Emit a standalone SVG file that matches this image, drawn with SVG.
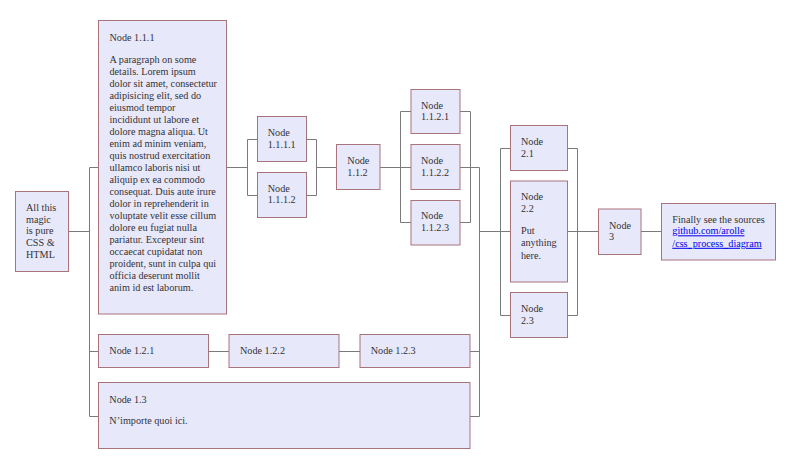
<svg xmlns="http://www.w3.org/2000/svg" width="800" height="463" viewBox="0 0 800 463">
<style>
.box{fill:#e8e8fb;stroke:#a9737c;stroke-width:1}
.t{font-family:"Liberation Serif","Times New Roman",serif;font-size:10.2px;fill:#333}
.lnk{fill:#0000ee;text-decoration:underline}
.c{fill:none;stroke:#7a7a7a;stroke-width:1}
</style>
<rect width="800" height="463" fill="#fff"/>
<g id="connectors" class="c">
<path d="M68.5,231.5H89.5M89.5,167.5V416.5M89.5,167.5H98.5M89.5,351.5H98.5M89.5,416.5H98.5"/>
<path d="M226.5,167.5H247.5M247.5,139.5V195.5M247.5,139.5H257.5M247.5,195.5H257.5M306.5,139.5H316.5M306.5,195.5H316.5M316.5,139.5V195.5M316.5,167.5H336.5"/>
<path d="M380,167.5H400.5M400.5,111.5V222.5M400.5,111.5H411M400.5,167.5H411M400.5,222.5H411M460,111.5H470.5M460,222.5H470.5M470.5,111.5V222.5M460,167.5H479.5"/>
<path d="M479.5,167.5V416.5M470,351.5H479.5M470,416.5H479.5M208.5,351.5H229M339,351.5H360"/>
<path d="M479.5,231.5H500.5M500.5,148.5V315.5M500.5,148.5H510.5M500.5,231.5H510.5M500.5,315.5H510.5M567.5,148.5H577.5M567.5,315.5H577.5M577.5,148.5V315.5M567.5,231.5H598.5M641,231.5H661.5"/>
</g>
<g id="n0"><rect class="box" x="15.5" y="191.5" width="53" height="80"/>
<text class="t" x="26" y="210.8">All this</text><text class="t" x="26" y="222.5">magic</text><text class="t" x="26" y="234.2">is pure</text><text class="t" x="26" y="245.9">CSS &amp;</text><text class="t" x="26" y="257.6">HTML</text></g>
<g id="n111"><rect class="box" x="98.5" y="20.5" width="128" height="293.5"/>
<text class="t" x="109.5" y="40.8">Node 1.1.1</text>
<text class="t" x="109.5" y="62.5">A paragraph on some</text>
<text class="t" x="109.5" y="74.5">details. Lorem ipsum</text>
<text class="t" x="109.5" y="86.5">dolor sit amet, consectetur</text>
<text class="t" x="109.5" y="98.5">adipisicing elit, sed do</text>
<text class="t" x="109.5" y="110.5">eiusmod tempor</text>
<text class="t" x="109.5" y="122.5">incididunt ut labore et</text>
<text class="t" x="109.5" y="134.5">dolore magna aliqua. Ut</text>
<text class="t" x="109.5" y="146.5">enim ad minim veniam,</text>
<text class="t" x="109.5" y="158.5">quis nostrud exercitation</text>
<text class="t" x="109.5" y="170.5">ullamco laboris nisi ut</text>
<text class="t" x="109.5" y="182.5">aliquip ex ea commodo</text>
<text class="t" x="109.5" y="194.5">consequat. Duis aute irure</text>
<text class="t" x="109.5" y="206.5">dolor in reprehenderit in</text>
<text class="t" x="109.5" y="218.5">voluptate velit esse cillum</text>
<text class="t" x="109.5" y="230.5">dolore eu fugiat nulla</text>
<text class="t" x="109.5" y="242.5">pariatur. Excepteur sint</text>
<text class="t" x="109.5" y="254.5">occaecat cupidatat non</text>
<text class="t" x="109.5" y="266.5">proident, sunt in culpa qui</text>
<text class="t" x="109.5" y="278.5">officia deserunt mollit</text>
<text class="t" x="109.5" y="290.5">anim id est laborum.</text>
</g>
<g id="n1111"><rect class="box" x="257.5" y="116.5" width="49" height="45"/>
<text class="t" x="267.7" y="136.2">Node</text><text class="t" x="267.7" y="147.9">1.1.1.1</text></g>
<g id="n1112"><rect class="box" x="257.5" y="172.5" width="49" height="45"/>
<text class="t" x="267.7" y="191.5">Node</text><text class="t" x="267.7" y="203.2">1.1.1.2</text></g>
<g id="n112"><rect class="box" x="336.5" y="144.5" width="43.5" height="45"/>
<text class="t" x="347.3" y="164.2">Node</text><text class="t" x="347.3" y="176">1.1.2</text></g>
<g id="n1121"><rect class="box" x="411" y="89.5" width="49" height="44"/>
<text class="t" x="421" y="108.5">Node</text><text class="t" x="421" y="120.2">1.1.2.1</text></g>
<g id="n1122"><rect class="box" x="411" y="144.5" width="49" height="45"/>
<text class="t" x="421" y="163.8">Node</text><text class="t" x="421" y="175.6">1.1.2.2</text></g>
<g id="n1123"><rect class="box" x="411" y="200.5" width="49" height="44.5"/>
<text class="t" x="421" y="219.2">Node</text><text class="t" x="421" y="231">1.1.2.3</text></g>
<g id="n121"><rect class="box" x="98.5" y="334.5" width="110" height="33"/>
<text class="t" x="109.3" y="354.2">Node 1.2.1</text></g>
<g id="n122"><rect class="box" x="229" y="334.5" width="110" height="33"/>
<text class="t" x="240" y="354.2">Node 1.2.2</text></g>
<g id="n123"><rect class="box" x="360" y="334.5" width="110" height="33"/>
<text class="t" x="370.7" y="354.2">Node 1.2.3</text></g>
<g id="n13"><rect class="box" x="98.5" y="382.5" width="371.5" height="66"/>
<text class="t" x="109.3" y="402.8">Node 1.3</text><text class="t" x="109.3" y="423.5">N’importe quoi ici.</text></g>
<g id="n21"><rect class="box" x="510.5" y="125.5" width="57" height="45"/>
<text class="t" x="521" y="145.2">Node</text><text class="t" x="521" y="156.9">2.1</text></g>
<g id="n22"><rect class="box" x="510.5" y="181" width="57" height="101"/>
<text class="t" x="521" y="200.2">Node</text><text class="t" x="521" y="211.9">2.2</text>
<text class="t" x="521" y="234.2">Put</text><text class="t" x="521" y="246.4">anything</text><text class="t" x="521" y="258.6">here.</text></g>
<g id="n23"><rect class="box" x="510.5" y="292.5" width="57" height="45"/>
<text class="t" x="521" y="311.8">Node</text><text class="t" x="521" y="323.8">2.3</text></g>
<g id="n3"><rect class="box" x="598.5" y="209" width="42.5" height="45.5"/>
<text class="t" x="609" y="228.5">Node</text><text class="t" x="609" y="240.2">3</text></g>
<g id="n4"><rect class="box" x="661.5" y="203.5" width="114" height="56.5"/>
<text class="t" x="672.3" y="222.5">Finally see the sources</text>
<text class="t lnk" x="672.3" y="234.3">github.com/arolle</text>
<text class="t lnk" x="672.3" y="246.8">/css_process_diagram</text></g>
</svg>
